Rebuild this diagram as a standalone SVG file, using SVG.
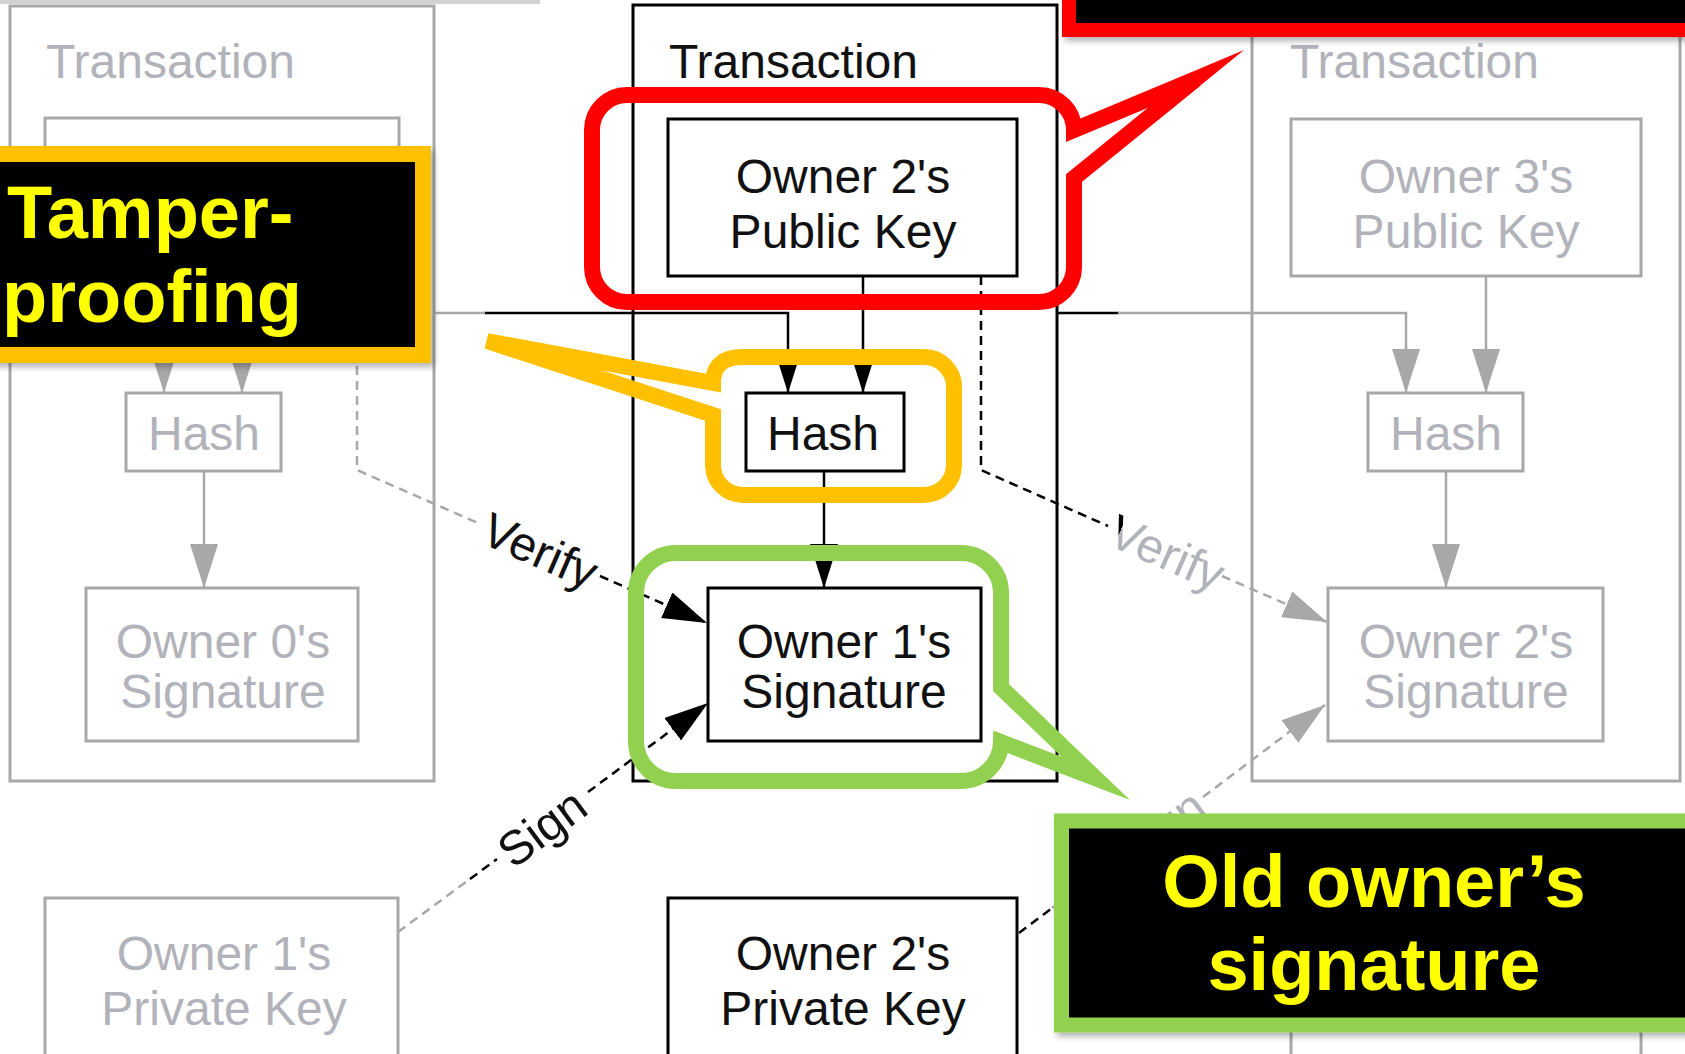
<svg xmlns="http://www.w3.org/2000/svg" width="1685" height="1054" viewBox="0 0 1685 1054">
<style>
.bk{fill:#fff;stroke:#000;stroke-width:3}
.gb{fill:#fff;stroke:#a8a8a8;stroke-width:3}
.t{font-family:"Liberation Sans",Arial,sans-serif;font-size:48px}
.tb{fill:#111}
.tg{fill:#b2b2ba}
.m{text-anchor:middle}
.lk{fill:none;stroke:#000;stroke-width:2.5}
.lg{fill:none;stroke:#a8a8a8;stroke-width:2.5}
.d{stroke-dasharray:9 6}
.big{font-family:"Liberation Sans",Arial,sans-serif;font-size:74px;font-weight:bold;fill:#ffff00}
</style>
<defs>
<marker id="ak" markerUnits="userSpaceOnUse" markerWidth="44" markerHeight="28" refX="44" refY="14" orient="auto"><path d="M0,0 L44,14 L0,28 Z" fill="#000"/></marker>
<marker id="ag" markerUnits="userSpaceOnUse" markerWidth="44" markerHeight="28" refX="44" refY="14" orient="auto"><path d="M0,0 L44,14 L0,28 Z" fill="#a8a8a8"/></marker>
<filter id="sh" x="-10%" y="-20%" width="130%" height="150%"><feDropShadow dx="3" dy="4" stdDeviation="3" flood-color="#000" flood-opacity="0.3"/></filter>
<linearGradient id="vg" x1="0" y1="0" x2="1" y2="0"><stop offset="0" stop-color="#000"/><stop offset="0.07" stop-color="#000"/><stop offset="0.07" stop-color="#b2b2ba"/><stop offset="1" stop-color="#b2b2ba"/></linearGradient>
</defs>
<rect width="1685" height="1054" fill="#fff"/>

<g id="tx-left">
<rect class="gb" x="10" y="6" width="424" height="775"/>
<text class="t tg" x="46" y="78">Transaction</text>
<rect class="gb" x="45" y="118" width="354" height="158"/>
<rect class="gb" x="126" y="393" width="155" height="78"/>
<text class="t tg m" x="204" y="450">Hash</text>
<rect class="gb" x="86" y="588" width="272" height="153"/>
<text class="t tg m" x="223" y="658">Owner 0's</text>
<text class="t tg m" x="223" y="708">Signature</text>
</g>
<g id="priv-left">
<rect class="gb" x="45" y="898" width="353" height="170"/>
<text class="t tg m" x="224" y="970">Owner 1's</text>
<text class="t tg m" x="224" y="1025">Private Key</text>
</g>

<g id="tx-mid">
<rect class="bk" x="633" y="5" width="424" height="776" fill="none"/>
<text class="t tb" x="669" y="78">Transaction</text>
<rect class="bk" x="668" y="119" width="349" height="157"/>
<text class="t tb m" x="843" y="193">Owner 2's</text>
<text class="t tb m" x="843" y="248">Public Key</text>
<rect class="bk" x="746" y="393" width="158" height="78"/>
<text class="t tb m" x="823" y="450">Hash</text>
<rect class="bk" x="708" y="588" width="273" height="153"/>
<text class="t tb m" x="844" y="658">Owner 1's</text>
<text class="t tb m" x="844" y="708">Signature</text>
</g>
<g id="priv-mid">
<rect class="bk" x="668" y="898" width="349" height="170"/>
<text class="t tb m" x="843" y="970">Owner 2's</text>
<text class="t tb m" x="843" y="1025">Private Key</text>
</g>

<g id="tx-right">
<rect class="gb" x="1252" y="5" width="428" height="776"/>
<text class="t tg" x="1290" y="78">Transaction</text>
<rect class="gb" x="1291" y="119" width="350" height="157"/>
<text class="t tg m" x="1466" y="193">Owner 3's</text>
<text class="t tg m" x="1466" y="248">Public Key</text>
<rect class="gb" x="1368" y="393" width="155" height="78"/>
<text class="t tg m" x="1446" y="450">Hash</text>
<rect class="gb" x="1328" y="588" width="275" height="153"/>
<text class="t tg m" x="1466" y="658">Owner 2's</text>
<text class="t tg m" x="1466" y="708">Signature</text>
</g>
<g id="priv-right">
<rect class="gb" x="1291" y="898" width="350" height="170"/>
</g>

<g id="connectors">
<path class="lg" d="M0,313 H164 V393" marker-end="url(#ag)"/>
<path class="lg" d="M242,276 V393" marker-end="url(#ag)"/>
<path class="lg" d="M204,471 V588" marker-end="url(#ag)"/>
<path class="lg" d="M434,313 H486"/>
<path class="lk" d="M485,313 H788 V393" marker-end="url(#ak)"/>
<path class="lk" d="M863,276 V393" marker-end="url(#ak)"/>
<path class="lk" d="M824,471 V588" marker-end="url(#ak)"/>
<path class="lk" d="M1057,313 H1119"/>
<path class="lg" d="M1118,313 H1406 V393" marker-end="url(#ag)"/>
<path class="lg" d="M1486,276 V393" marker-end="url(#ag)"/>
<path class="lg" d="M1446,471 V588" marker-end="url(#ag)"/>

<path class="lg d" d="M357,276 V470 L478,523"/>
<text class="t tb m" x="540" y="551" dominant-baseline="central" transform="rotate(23.6 540 551)">Verify</text>
<path class="lk d" d="M600,576 L707,623" marker-end="url(#ak)"/>

<path class="lg d" d="M398,932 L470,879"/>
<path class="lk d" d="M470,879 L497,859"/>
<text class="t tb m" x="542" y="828" dominant-baseline="central" transform="rotate(-36.45 542 828)">Sign</text>
<path class="lk d" d="M588,792 L708,703" marker-end="url(#ak)"/>

<path class="lk d" d="M981,276 V470 L1108,526"/>
<text class="t m" x="1167" y="553" fill="url(#vg)" dominant-baseline="central" transform="rotate(23.7 1167 553)">Verify</text>
<path class="lg d" d="M1222,576 L1327,622" marker-end="url(#ag)"/>

<path class="lk d" d="M1019,933 L1052,908"/>
<path class="lg d" d="M1052,908 L1118,859"/>
<text class="t tg m" x="1161" y="829" dominant-baseline="central" transform="rotate(-36.7 1161 829)">Sign</text>
<path class="lg d" d="M1203,797 L1325,705" marker-end="url(#ag)"/>
</g>

<g id="callouts">
<rect x="0" y="0" width="540" height="4" fill="#d2d2d2"/>
<g id="note-key">
<rect x="1069" y="-40" width="700" height="70" fill="#000" stroke="#ff0000" stroke-width="14" filter="url(#sh)"/>
<path d="M627,95 H1039 A35,35 0 0 1 1074,130 L1196,79 L1074,178 V267 A35,35 0 0 1 1039,302 H627 A35,35 0 0 1 592,267 V130 A35,35 0 0 1 627,95 Z" fill="none" stroke="#ff0000" stroke-width="16"/>
<polygon points="1193,71.6 1244,50 1201,85 1196,79" fill="#ff0000"/>
</g>
<g id="note-tamper">
<rect x="-10" y="154" width="433" height="201" fill="#000" stroke="#ffc000" stroke-width="16" filter="url(#sh)"/>
<text class="big" x="7" y="238">Tamper-</text>
<text class="big" x="2" y="322">proofing</text>
<path d="M743,357 H924 A30,30 0 0 1 954,387 V465 A30,30 0 0 1 924,495 H743 A30,30 0 0 1 713,465 V415 L487,341 L713,383 Q713,357 743,357 Z" fill="none" stroke="#ffc000" stroke-width="16" stroke-linejoin="miter" stroke-miterlimit="4"/>
</g>
<g id="note-sig">
<path d="M676,553 H961 A40,40 0 0 1 1001,593 V687.5 L1095.7,778.3 L1001,742 A40,40 0 0 1 961,781 H676 A40,40 0 0 1 636,741 V593 A40,40 0 0 1 676,553 Z" fill="none" stroke="#92d050" stroke-width="16"/>
<polygon points="1101.2,772.5 1130,800 1092.8,785.8 1095.7,778.3" fill="#92d050"/>
<rect x="1061.5" y="821" width="650" height="204" fill="#000" stroke="#92d050" stroke-width="15" filter="url(#sh)"/>
<text class="big m" x="1374" y="907">Old owner’s</text>
<text class="big m" x="1374" y="990">signature</text>
</g>
</g>
</svg>
